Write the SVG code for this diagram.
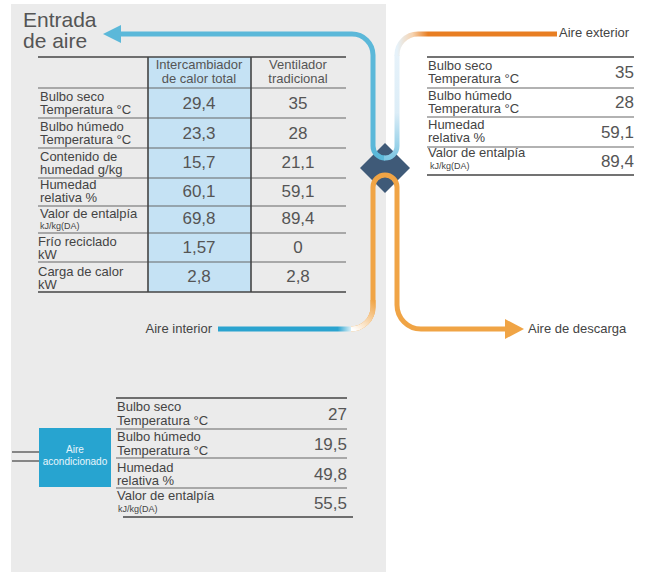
<svg xmlns="http://www.w3.org/2000/svg" width="649" height="572" viewBox="0 0 649 572">
<defs>
<style>
.t{font-family:"Liberation Sans",Arial,sans-serif;fill:#444}
.lb{font-size:13px}
.sm{font-size:9px}
.v{font-size:17px;fill:#555}
.hd{font-size:13px;fill:#555;text-anchor:middle}
.mid{text-anchor:middle}
.end{text-anchor:end}
.ln{stroke:#666;stroke-width:1.2}
.lk{stroke:#444;stroke-width:1.6}
.pipe{fill:none;stroke-width:5}
</style>
<linearGradient id="gBlueUp" gradientUnits="userSpaceOnUse" x1="0" y1="160" x2="0" y2="55">
<stop offset="0" stop-color="#7cc6e3"/>
<stop offset="0.45" stop-color="#dcedf7"/>
<stop offset="1" stop-color="#e6f2fa"/>
</linearGradient>
<linearGradient id="gToOrange" gradientUnits="userSpaceOnUse" x1="397" y1="0" x2="428" y2="0">
<stop offset="0" stop-color="#e6f2fa"/>
<stop offset="0.5" stop-color="#f6d3b0"/>
<stop offset="1" stop-color="#e87e22"/>
</linearGradient>
<linearGradient id="gInt" gradientUnits="userSpaceOnUse" x1="218" y1="0" x2="354" y2="0">
<stop offset="0.88" stop-color="#2aa3cf"/>
<stop offset="1" stop-color="#ffffff"/>
</linearGradient>
<linearGradient id="gCurve" gradientUnits="userSpaceOnUse" x1="352" y1="329" x2="373" y2="300">
<stop offset="0" stop-color="#ffffff"/>
<stop offset="1" stop-color="#f0a445"/>
</linearGradient>
</defs>

<rect id="background" x="11" y="4" width="375" height="568" fill="#ebebeb"/>

<g id="exchanger">
<polygon points="385,143 410,168 385,193 360,168" fill="#3f5a78"/>
</g>

<g id="connectors">
<path class="pipe" d="M 119 34 H 352 A 21 21 0 0 1 373 55 V 146 A 12 12 0 0 0 385 158" stroke="#5bb8d9"/>
<path class="pipe" d="M 384 158 A 12 12 0 0 0 397 146 V 55" stroke="url(#gBlueUp)"/>
<path class="pipe" d="M 397 56 A 21 21 0 0 1 418 34 H 557" stroke="url(#gToOrange)"/>
<polygon points="103,34 121,25 121,43" fill="#5bb8d9"/>
<path class="pipe" d="M 218 329 H 352" stroke="url(#gInt)" stroke-width="4.5"/>
<path class="pipe" d="M 351 329 A 22 22 0 0 0 373 307 V 187 A 12 12 0 0 1 397 187 V 305 A 24 24 0 0 0 421 329 H 507" stroke="#f0a445"/>
<path class="pipe" d="M 351 329 A 22 22 0 0 0 373 307 V 300" stroke="url(#gCurve)"/>
<polygon points="524,329 505,319 505,339" fill="#f0a445"/>
</g>

<g id="labels">
<text class="t" x="23" y="27" font-size="21" fill="#555" style="fill:#555">Entrada</text>
<text class="t" x="23" y="48" font-size="21" fill="#555" style="fill:#555">de aire</text>
<text class="t lb" x="559" y="37">Aire exterior</text>
<text class="t lb end" x="212" y="333">Aire interior</text>
<text class="t lb" x="528" y="333">Aire de descarga</text>
</g>

<g id="entrada-table">
<rect x="148" y="57" width="103" height="235" fill="#c5e2f4"/>
<line class="lk" x1="38" y1="57" x2="346" y2="57"/>
<line class="ln" x1="38" y1="88" x2="346" y2="88"/>
<line class="ln" x1="38" y1="118" x2="346" y2="118"/>
<line class="ln" x1="38" y1="148" x2="346" y2="148"/>
<line class="ln" x1="38" y1="178" x2="346" y2="178"/>
<line class="ln" x1="38" y1="206" x2="346" y2="206"/>
<line class="ln" x1="38" y1="233" x2="346" y2="233"/>
<line class="ln" x1="38" y1="262" x2="346" y2="262"/>
<line class="lk" x1="38" y1="292" x2="346" y2="292"/>
<line class="lk" x1="148" y1="57" x2="148" y2="292" stroke-width="1.2"/>
<line class="lk" x1="251" y1="57" x2="251" y2="292" stroke-width="1.2"/>
<text class="t hd" x="199" y="69">Intercambiador</text>
<text class="t hd" x="199" y="83">de calor total</text>
<text class="t hd" x="298" y="69">Ventilador</text>
<text class="t hd" x="298" y="83">tradicional</text>
<text class="t lb" x="40" y="101">Bulbo seco</text>
<text class="t lb" x="40" y="114">Temperatura °C</text>
<text class="t lb" x="40" y="131">Bulbo húmedo</text>
<text class="t lb" x="40" y="144">Temperatura °C</text>
<text class="t lb" x="40" y="161">Contenido de</text>
<text class="t lb" x="40" y="174">humedad g/kg</text>
<text class="t lb" x="40" y="189">Humedad</text>
<text class="t lb" x="40" y="202">relativa %</text>
<text class="t lb" x="40" y="218">Valor de entalpía</text>
<text class="t sm" x="40" y="229">kJ/kg(DA)</text>
<text class="t lb" x="38" y="246">Frío reciclado</text>
<text class="t lb" x="38" y="259">kW</text>
<text class="t lb" x="38" y="276">Carga de calor</text>
<text class="t lb" x="38" y="289">kW</text>
<text class="t v mid" x="199" y="109">29,4</text>
<text class="t v mid" x="199" y="139">23,3</text>
<text class="t v mid" x="199" y="168">15,7</text>
<text class="t v mid" x="199" y="197">60,1</text>
<text class="t v mid" x="199" y="224">69,8</text>
<text class="t v mid" x="199" y="253">1,57</text>
<text class="t v mid" x="199" y="282">2,8</text>
<text class="t v mid" x="298" y="109">35</text>
<text class="t v mid" x="298" y="139">28</text>
<text class="t v mid" x="298" y="168">21,1</text>
<text class="t v mid" x="298" y="197">59,1</text>
<text class="t v mid" x="298" y="224">89,4</text>
<text class="t v mid" x="298" y="253">0</text>
<text class="t v mid" x="298" y="282">2,8</text>
</g>

<g id="exterior-table">
<line class="lk" x1="427" y1="57" x2="634" y2="57"/>
<line class="ln" x1="427" y1="88" x2="634" y2="88"/>
<line class="ln" x1="427" y1="117" x2="634" y2="117"/>
<line class="ln" x1="427" y1="147" x2="634" y2="147"/>
<line class="lk" x1="427" y1="175" x2="634" y2="175"/>
<text class="t lb" x="428" y="70">Bulbo seco</text>
<text class="t lb" x="428" y="83">Temperatura °C</text>
<text class="t lb" x="428" y="100">Bulbo húmedo</text>
<text class="t lb" x="428" y="113">Temperatura °C</text>
<text class="t lb" x="428" y="129">Humedad</text>
<text class="t lb" x="428" y="142">relativa %</text>
<text class="t lb" x="428" y="157">Valor de entalpía</text>
<text class="t sm" x="430" y="169">kJ/kg(DA)</text>
<text class="t v end" x="634" y="78">35</text>
<text class="t v end" x="634" y="108">28</text>
<text class="t v end" x="634" y="138">59,1</text>
<text class="t v end" x="634" y="167">89,4</text>
</g>

<g id="acondicionado">
<line x1="12" y1="452" x2="39" y2="452" stroke="#444" stroke-width="1.2"/>
<line x1="12" y1="461" x2="39" y2="461" stroke="#444" stroke-width="1.2"/>
<rect x="39" y="428" width="72" height="59" fill="#27a4d0"/>
<text class="t mid" x="75" y="453" font-size="10" style="fill:#e8f6fc">Aire</text>
<text class="t mid" x="75" y="465" font-size="10" style="fill:#e8f6fc">acondicionado</text>
</g>

<g id="acondicionado-table">
<line class="lk" x1="116" y1="398" x2="347" y2="398"/>
<line class="ln" x1="116" y1="429" x2="347" y2="429"/>
<line class="ln" x1="116" y1="458" x2="347" y2="458"/>
<line class="ln" x1="116" y1="488" x2="347" y2="488"/>
<line class="lk" x1="123" y1="517" x2="353" y2="517"/>
<text class="t lb" x="117" y="411">Bulbo seco</text>
<text class="t lb" x="117" y="425">Temperatura °C</text>
<text class="t lb" x="117" y="441">Bulbo húmedo</text>
<text class="t lb" x="117" y="455">Temperatura °C</text>
<text class="t lb" x="117" y="472">Humedad</text>
<text class="t lb" x="117" y="485">relativa %</text>
<text class="t lb" x="117" y="500">Valor de entalpía</text>
<text class="t sm" x="118" y="512">kJ/kg(DA)</text>
<text class="t v end" x="347" y="420">27</text>
<text class="t v end" x="347" y="450">19,5</text>
<text class="t v end" x="347" y="480">49,8</text>
<text class="t v end" x="347" y="509">55,5</text>
</g>
</svg>
